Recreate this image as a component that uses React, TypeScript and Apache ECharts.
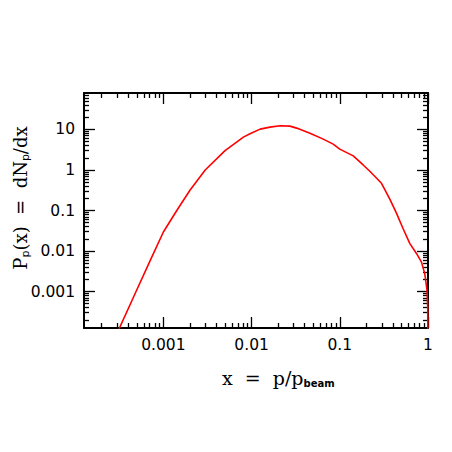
import React, { useEffect, useRef } from "react";
import * as echarts from "echarts";

// Momentum fraction x = p/p_beam and distribution P_p(x) = dN_p/dx
const momentumFraction = [
  2.82e-4, 4.9e-4, 7.1e-4, 1.0e-3, 1.43e-3, 2.01e-3, 2.98e-3, 5.0e-3, 8.07e-3, 9.6e-3,
  0.0125, 0.0162, 0.021, 0.0272, 0.0324, 0.0459, 0.0649, 0.0841, 0.1, 0.142,
  0.184, 0.219, 0.297, 0.369, 0.44, 0.521, 0.621, 0.74, 0.841, 0.918,
  0.975, 0.993, 0.9993,
];
const protonDensity = [
  7.1e-5, 1.0e-3, 5.9e-3, 0.0295, 0.103, 0.32, 1.0, 3.01, 6.47, 7.8,
  10.2, 11.4, 12.3, 12.1, 10.8, 8.1, 5.77, 4.35, 3.27, 2.23,
  1.33, 0.93, 0.47, 0.19, 0.085, 0.036, 0.0154, 0.0087, 0.0054, 0.0028,
  0.00107, 4e-4, 1e-5,
];

// Axis ranges (decade exponents) and tick labels
const xExpRange = [-3.9, 0];
const yExpRange = [-3.9, 1.9];
const xTickValues = [0.001, 0.01, 0.1, 1];
const xTickLabels = ["0.001", "0.01", "0.1", "1"];
const yTickValues = [0.001, 0.01, 0.1, 1, 10];
const yTickLabels = ["0.001", "0.01", "0.1", "1", "10"];

const minorExps = (range: number[]) => {
  const out: number[] = [];
  for (let n = Math.floor(range[0]) - 1; n <= Math.ceil(range[1]); n++) {
    for (let k = 2; k <= 9; k++) {
      const e = Math.log10(k) + n;
      if (e > range[0] + 1e-6 && e < range[1] - 1e-6) out.push(e);
    }
  }
  return out;
};

const labelFor = (values: number[], labels: string[]) => (v: number) => {
  for (let i = 0; i < values.length; i++) {
    if (Math.abs(Math.log10(values[i]) - v) < 1e-6) return labels[i];
  }
  return "";
};

const LABEL_FONT = "DejaVu Sans";
const TITLE_FONT = "DejaVu Serif";

export default function App() {
  const ref = useRef<HTMLDivElement>(null);
  useEffect(() => {
    if (!ref.current) return;
    const chart = echarts.init(ref.current, undefined, { renderer: "svg" });

    const xMajor = xTickValues.map((v) => Math.log10(v));
    const yMajor = yTickValues.map((v) => Math.log10(v));
    const xMinor = minorExps(xExpRange);
    const yMinor = minorExps(yExpRange);

    const lineStyle = { color: "#000", width: 2 };
    const tickStyle = { color: "#000", width: 1.3 };
    const labelStyle = {
      color: "#000",
      fontSize: 15.5,
      fontFamily: LABEL_FONT,
    };

    const mkAxis = (
      pos: string,
      range: number[],
      ticks: number[],
      len: number,
      showLine: boolean,
      labels: null | { values: number[]; fmt: (v: number) => string }
    ) => ({
      type: "value",
      position: pos,
      min: range[0],
      max: range[1],
      axisLine: { show: showLine, onZero: false, lineStyle },
      axisTick: {
        show: true,
        inside: true,
        length: len,
        customValues: ticks,
        lineStyle: tickStyle,
      },
      axisLabel: labels
        ? {
            show: true,
            customValues: labels.values,
            formatter: labels.fmt,
            margin: 9,
            ...labelStyle,
          }
        : { show: false },
      splitLine: { show: false },
      minorTick: { show: false },
    });

    const xFmt = labelFor(xTickValues, xTickLabels);
    const yFmt = labelFor(yTickValues, yTickLabels);

    const data = momentumFraction.map((x, i) => [Math.log10(x), Math.log10(protonDensity[i])]);

    const mainRich = { fontFamily: TITLE_FONT, fontSize: 19, lineHeight: 22, fill: "#000" };
    const subRich = {
      fontFamily: LABEL_FONT,
      fontWeight: "bold",
      fontSize: 10,
      padding: [11, 0, 0, 0],
      verticalAlign: "top",
      fill: "#000",
    };

    chart.setOption({
      animation: false,
      backgroundColor: "#fff",
      grid: { left: 84, right: 24, top: 93, bottom: 124, containLabel: false },
      xAxis: [
        mkAxis("bottom", xExpRange, xMajor, 11, true, { values: xMajor, fmt: xFmt }),
        mkAxis("bottom", xExpRange, xMinor, 5, false, null),
        mkAxis("top", xExpRange, xMajor, 11, true, null),
        mkAxis("top", xExpRange, xMinor, 5, false, null),
      ],
      yAxis: [
        mkAxis("left", yExpRange, yMajor, 11, true, { values: yMajor, fmt: yFmt }),
        mkAxis("left", yExpRange, yMinor, 5, false, null),
        mkAxis("right", yExpRange, yMajor, 11, true, null),
        mkAxis("right", yExpRange, yMinor, 5, false, null),
      ],
      series: [
        {
          type: "line",
          xAxisIndex: 0,
          yAxisIndex: 0,
          data,
          showSymbol: false,
          symbol: "none",
          clip: true,
          lineStyle: { color: "#ff0000", width: 1.6 },
        },
      ],
      graphic: [
        {
          type: "text",
          x: 222,
          y: 378,
          style: {
            text: "{m|x  =  p/p}{s|beam}",
            align: "left",
            verticalAlign: "middle",
            rich: { m: mainRich, s: subRich },
          },
        },
        {
          type: "text",
          x: 20,
          y: 198,
          rotation: Math.PI / 2,
          style: {
            text: "{m|P}{s|p}{m|(x)  =  dN}{s|p}{m|/dx}",
            align: "center",
            verticalAlign: "middle",
            rich: {
              m: { ...mainRich, fontSize: 18 },
              s: { ...subRich, fontWeight: "normal", fontSize: 11 },
            },
          },
        },
      ],
    });
    return () => chart.dispose();
  }, []);

  return (
    <div
      ref={ref}
      style={{ position: "fixed", left: 0, top: 0, width: 452, height: 452, background: "#fff" }}
    />
  );
}
